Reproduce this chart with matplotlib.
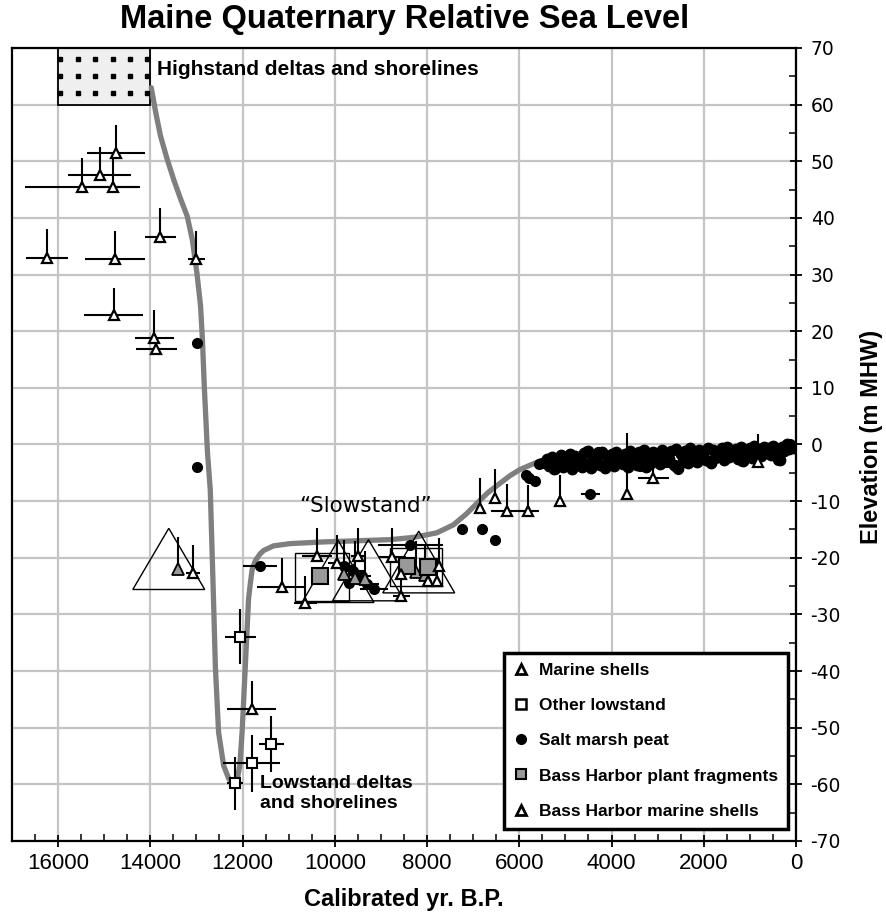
import numpy as np
import matplotlib
matplotlib.use('Agg')
import matplotlib.pyplot as plt
from matplotlib.patches import Rectangle, Polygon
from matplotlib.lines import Line2D

plt.rcParams['axes.unicode_minus'] = False

# Curva de nivel del mar relativo (años cal. BP, m MHW)
curve_x = [13980, 13880, 13780, 13640, 13490, 13350, 13200, 13090, 12990, 12910, 12870,
           12830, 12760, 12700, 12630, 12590, 12520, 12410, 12300, 12200, 12120, 12060,
           12010, 11940, 11870, 11830, 11790, 11720, 11620, 11540, 11330, 10970, 10240,
           9520, 8800, 8290, 7790, 7430, 7140, 6920, 6680, 6410, 6200, 5980, 5550, 5190,
           4500, 3700, 3000, 2200, 1500, 700, 0]
curve_y = [63, 58.5, 54.5, 50.5, 46.7, 43.5, 40.3, 36.2, 30.3, 24.4, 18.5,
           10.3, -1.5, -8, -27.3, -39.1, -50.8, -56.7, -59.0, -59.8, -59.3, -56.7,
           -50.8, -39.1, -27.3, -24.4, -22.0, -20.5, -19.3, -18.7, -17.9, -17.5, -17.2,
           -17.0, -16.8, -16.4, -15.6, -14.2, -12.2, -10.4, -8.5, -6.8, -5.5, -4.4, -2.9,
           -2.3, -1.8, -1.5, -1.2, -0.9, -0.7, -0.4, -0.2]

# Conchas marinas (triángulos blancos): x, y, error x, error y (solo hacia arriba)
shell_x = [14740, 15100, 15490, 14820, 16240, 14760, 13780, 13000, 14790, 13910, 13870,
           13070, 11800, 11150, 10390, 10640, 9950, 9490, 8750, 8560, 8560, 7750, 7970,
           7790, 6850, 6520, 6270, 5800, 5110, 3670, 3090, 820]
shell_y = [51.4, 47.6, 45.4, 45.4, 32.9, 32.8, 36.7, 32.8, 22.9, 18.8, 16.8,
           -22.7, -46.7, -25.1, -19.7, -27.9, -20.9, -19.7, -19.8, -26.8, -22.9, -21.5, -24.1,
           -24.1, -11.2, -9.4, -11.8, -11.8, -10.0, -8.8, -5.9, -3.1]
shell_xerr = [630, 690, 1230, 600, 450, 650, 340, 180, 640, 430, 450,
              150, 530, 530, 325, 250, 200, 150, 290, 180, 0, 0, 0,
              0, 0, 0, 350, 230, 0, 0, 340, 0]
shell_yup = [5.0, 5.0, 5.2, 5.4, 5.1, 4.9, 5.0, 4.9, 4.7, 5.0, 0,
             5.0, 5.0, 5.1, 5.0, 4.7, 5.0, 5.0, 5.0, 4.0, 0, 5.0, 0,
             4.0, 5.3, 5.0, 4.9, 4.7, 4.7, 10.9, 2.7, 4.9]

# Otros datos de lowstand (cuadrados blancos)
low_x = [12050, 11380, 11800, 12160]
low_y = [-33.9, -52.9, -56.3, -59.8]
low_xerr = [340, 270, 615, 180]
low_yerr = [4.8, 5.0, 5.0, 4.7]

# Turba de marisma (puntos negros) aislados o con barra horizontal
peat_x = [12990, 12990, 11620, 8360, 7240, 6810, 6520, 4460, 5850, 5780, 5660, 5580,
          5510, 5220, 4540, 4300, 3400, 2600, 1500, 3380, 2560, 1180, 380, 130,
          9800, 9600, 9420, 9300, 9150, 9700]
peat_y = [18.0, -4.0, -21.5, -17.7, -14.9, -14.9, -16.9, -8.8, -5.3, -5.9, -6.5, -3.5,
          -3.2, -4.4, -1.2, -1.4, -2.2, -4.0, -2.0, -3.8, -4.4, -2.9, -2.8, 0.0,
          -21.5, -22.3, -23.2, -24.6, -25.6, -24.5]
peat_xerr = [100, 0, 360, 700, 0, 0, 0, 200, 0, 0, 0, 0,
             0, 0, 0, 300, 350, 250, 300, 0, 0, 0, 0, 0,
             200, 250, 200, 250, 300, 0]

# Nube densa de turba del Holoceno tardío
band_x1 = [5400, 5300, 5200, 5100, 5000, 4900, 4800, 4700, 4600, 4500, 4400, 4300, 4200,
           4100, 4000, 3900, 3800, 3700, 3600, 3500, 3400, 3300, 3200, 3100, 3000, 2900,
           2800, 2700, 2600, 2500, 2400, 2300, 2200, 2100, 2000, 1900, 1800, 1700, 1600,
           1500, 1400, 1300, 1200, 1100, 1000, 900, 800, 700, 600, 500, 400, 300, 200, 100]
band_y1 = [-2.6, -2.2, -2.9, -1.9, -2.4, -1.6, -2.1, -2.7, -1.5, -1.2, -2.3, -1.8, -1.4,
           -2.0, -1.7, -1.3, -2.2, -1.6, -1.1, -1.9, -1.4, -1.0, -1.8, -1.3, -1.6, -0.9,
           -1.5, -1.2, -0.8, -1.7, -1.1, -0.7, -1.4, -0.9, -1.2, -0.6, -1.0, -1.5, -0.7,
           -0.4, -1.1, -0.8, -0.5, -1.2, -0.6, -0.3, -0.9, -0.4, -0.7, -0.2, -1.0, -0.5, 0.1, -0.3]
band_x2 = [5350, 5250, 5150, 5050, 4950, 4850, 4750, 4650, 4550, 4450, 4350, 4250, 4150,
           4050, 3950, 3850, 3750, 3650, 3550, 3450, 3350, 3250, 3150, 3050, 2950, 2850,
           2750, 2650, 2550, 2450, 2350, 2250, 2150, 2050, 1950, 1850, 1750, 1650, 1550,
           1450, 1350, 1250, 1150, 1050, 950, 850, 750, 650, 550, 450, 350, 250, 150, 50]
band_y2 = [-3.8, -4.3, -3.4, -4.0, -3.6, -4.4, -3.2, -3.9, -3.5, -4.1, -3.0, -3.7, -4.2,
           -3.3, -3.8, -2.9, -3.5, -4.0, -3.1, -3.6, -2.8, -3.9, -3.2, -2.7, -3.4, -3.0,
           -2.5, -3.6, -4.2, -2.9, -3.3, -2.6, -3.1, -2.3, -2.8, -3.2, -2.4, -2.0, -2.7,
           -2.2, -1.8, -2.5, -2.9, -1.9, -2.3, -1.6, -2.1, -1.5, -1.9, -1.3, -2.8, -1.1, -0.8, -0.6]

# Bass Harbor: fragmentos vegetales (cuadrados grises) y sus cajas de error
bh_plant_x = [10315, 8440, 7970]
bh_plant_y = [-23.2, -21.4, -21.7]
bh_box_x0 = [9700, 7680]
bh_box_x1 = [10860, 8800]
bh_box_y0 = [-27.6, -25.0]
bh_box_y1 = [-19.1, -18.2]

# Bass Harbor: conchas marinas (triángulos grises) y triángulos grandes
bh_shell_x = [13390, 9560, 9340, 9800, 8250, 8050]
bh_shell_y = [-21.9, -23.5, -23.8, -22.8, -22.5, -23.0]
bh_shell_yup = [5.5, 6.5, 5.0, 6.0, 5.5, 5.0]
big_tri_x = [13600, 9270, 9930, 8180]
big_tri_top = [-14.8, -16.8, -16.9, -15.3]
big_tri_base = [-25.6, -27.6, -27.9, -26.2]
big_tri_half = 780

# Caja de highstand
hs_dot_x = [15950, 15575, 15190, 14810, 14430, 14070]
hs_dot_y = [68.1, 65.0, 62.0]

fig = plt.figure(figsize=(8.86, 9.16), dpi=100)
ax = fig.add_axes([0.0135, 0.0819, 0.8849, 0.8657])

ax.set_xlim(17000, 0)
ax.set_ylim(-70, 70)
ax.set_xticks(np.arange(0, 17000, 2000))
ax.set_xticks(np.arange(0, 17000, 500), minor=True)
ax.set_yticks(np.arange(-70, 71, 10))
ax.set_yticks(np.arange(-70, 71, 5), minor=True)
ax.grid(True, which='major', color='#c4c4c4', linewidth=1.6, zorder=0)
ax.set_axisbelow(True)
ax.yaxis.tick_right()
ax.yaxis.set_label_position('right')
ax.tick_params(axis='both', which='major', direction='inout', length=9, width=1.3)
ax.tick_params(axis='both', which='minor', direction='in', length=5, width=1.1)
ax.tick_params(axis='x', labelsize=16, pad=4)
ax.tick_params(axis='y', labelsize=13.5, pad=6)
for lab in ax.get_xticklabels():
    lab.set_family('Liberation Sans')
for lab in ax.get_yticklabels():
    lab.set_family('DejaVu Sans')
for sp in ax.spines.values():
    sp.set_linewidth(1.6)

# caja de deltas altos
ax.add_patch(Rectangle((14000, 60), 2000, 10, facecolor='#efefef', edgecolor='black',
                       linewidth=1.3, zorder=2))
hx, hy = np.meshgrid(hs_dot_x, hs_dot_y)
ax.plot(hx.ravel(), hy.ravel(), 's', color='black', ms=2.6, zorder=3)

ax.plot(curve_x, curve_y, color='#7f7f7f', linewidth=3.8, solid_capstyle='round', zorder=2)

for xc, yt, yb in zip(big_tri_x, big_tri_top, big_tri_base):
    ax.add_patch(Polygon([[xc - big_tri_half, yb], [xc, yt], [xc + big_tri_half, yb]],
                         closed=True, fill=False, edgecolor='black', linewidth=1.0, zorder=3))
for x0, x1, y0, y1 in zip(bh_box_x0, bh_box_x1, bh_box_y0, bh_box_y1):
    ax.add_patch(Rectangle((x0, y0), x1 - x0, y1 - y0, fill=False, edgecolor='black',
                           linewidth=1.0, zorder=3))

ekw = dict(ecolor='black', elinewidth=1.5, capsize=0, linestyle='none', zorder=4)

ax.plot(band_x1, band_y1, 'o', color='black', ms=7.5, zorder=4)
ax.plot(band_x2, band_y2, 'o', color='black', ms=7.5, zorder=4)
ax.errorbar(peat_x, peat_y, xerr=peat_xerr, fmt='o', color='black', ms=7, **ekw)

ax.errorbar(bh_shell_x, bh_shell_y, yerr=[np.zeros(len(bh_shell_yup)), bh_shell_yup],
            fmt='^', mfc='#999999', mec='black', mew=1.3, ms=9, **ekw)
ax.errorbar(bh_plant_x, bh_plant_y, fmt='s', mfc='#999999', mec='black', mew=1.5,
            ms=11, **ekw)
ax.errorbar(shell_x, shell_y, xerr=shell_xerr, yerr=[np.zeros(len(shell_yup)), shell_yup],
            fmt='^', mfc='white', mec='black', mew=1.6, ms=7, **ekw)
ax.errorbar(low_x, low_y, xerr=low_xerr, yerr=low_yerr, fmt='s', mfc='white',
            mec='black', mew=1.5, ms=7, **ekw)

ax.text(13850, 66.2, 'Highstand deltas and shorelines', fontsize=15, fontweight='bold',
        family='Liberation Sans', ha='left', va='center')
ax.text(11620, -58.4, 'Lowstand deltas\nand shorelines', fontsize=14, fontweight='bold',
        family='Liberation Sans', ha='left', va='top', linespacing=1.2)
ax.text(9340, -10.9, '\u201cSlowstand\u201d', fontsize=15.5, family='DejaVu Sans',
        ha='center', va='center')

handles = [
    Line2D([], [], marker='^', ls='none', mfc='white', mec='black', mew=2, ms=7),
    Line2D([], [], marker='s', ls='none', mfc='white', mec='black', mew=1.8, ms=7),
    Line2D([], [], marker='o', ls='none', color='black', ms=7),
    Line2D([], [], marker='s', ls='none', mfc='#999999', mec='black', mew=1.5, ms=7.5),
    Line2D([], [], marker='^', ls='none', mfc='white', mec='black', mew=2, ms=7),
]
labels = ['Marine shells', 'Other lowstand', 'Salt marsh peat',
          'Bass Harbor plant fragments', 'Bass Harbor marine shells']
leg = ax.legend(handles, labels, loc='lower right', bbox_to_anchor=(0.99, 0.015),
                borderaxespad=0, fancybox=False, framealpha=1, edgecolor='black',
                prop={'family': 'Liberation Sans', 'weight': 'bold', 'size': 12.5},
                labelspacing=1.15, handlelength=0.8, handletextpad=0.6,
                borderpad=0.6)
leg.get_frame().set_linewidth(2.5)
leg.set_zorder(6)

ax.set_xlabel('Calibrated yr. B.P.', fontsize=17, fontweight='bold',
              family='Liberation Sans', labelpad=10)
ax.set_ylabel('Elevation (m MHW)', fontsize=17, fontweight='bold',
              family='Liberation Sans')
ax.yaxis.set_label_coords(1.082, 0.51)
fig.text(0.457, 0.979, 'Maine Quaternary Relative Sea Level', fontsize=23.5,
         fontweight='bold', family='Liberation Sans', ha='center', va='center')

fig.savefig('out.png', dpi=100)
